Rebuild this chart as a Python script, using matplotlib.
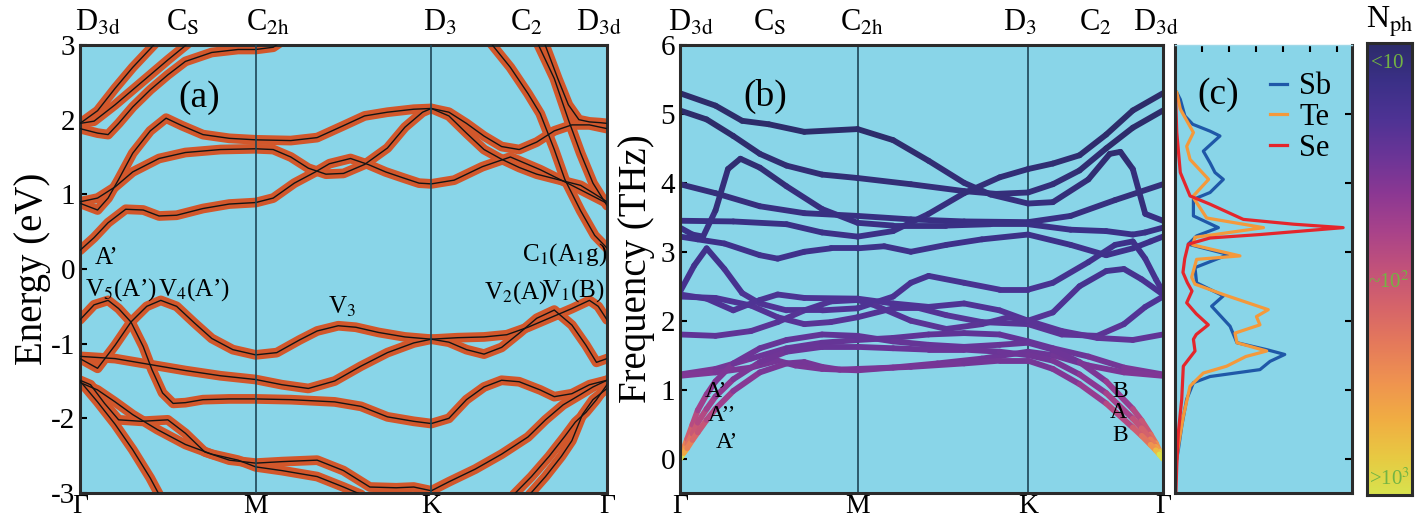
import numpy as np
import matplotlib
matplotlib.use('Agg')
import matplotlib.pyplot as plt
from matplotlib.collections import LineCollection
from matplotlib.colors import LinearSegmentedColormap, LogNorm

plt.rcParams['font.family'] = ['Liberation Serif', 'DejaVu Serif']
plt.rcParams['mathtext.fontset'] = 'stix'
plt.rcParams['axes.unicode_minus'] = False

# ---------------- (a) electronic bands: k (G=0, M=1, K=2, G=3), E in eV
vb1_k = [0, 0.08, 0.16, 0.22, 0.29, 0.36, 0.41, 0.47, 0.53, 0.6, 0.7, 0.85, 1.0, 1.2, 1.45, 1.6, 1.75, 1.9, 2.0, 2.1, 2.2, 2.3, 2.4, 2.5, 2.62, 2.7, 2.8, 2.9, 3.0]
vb1_e = [-0.68, -0.48, -0.42, -0.53, -0.71, -1.04, -1.35, -1.66, -1.80, -1.79, -1.75, -1.74, -1.74, -1.75, -1.78, -1.84, -1.98, -2.04, -2.07, -2.0, -1.75, -1.58, -1.49, -1.51, -1.62, -1.71, -1.67, -1.55, -1.49]
vb2_k = [0, 0.1, 0.2, 0.29, 0.38, 0.46, 0.55, 0.65, 0.75, 0.87, 1.0, 1.12, 1.25, 1.35, 1.47, 1.57, 1.7, 1.85, 2.0, 2.15, 2.3, 2.43, 2.55, 2.7, 2.8, 2.9, 2.95, 3.0]
vb2_e = [-1.20, -1.33, -1.02, -0.71, -0.50, -0.42, -0.50, -0.72, -0.93, -1.08, -1.15, -1.12, -0.95, -0.83, -0.76, -0.78, -0.85, -0.91, -0.94, -0.92, -0.91, -0.88, -0.78, -0.63, -0.53, -0.42, -0.50, -0.68]
vb3_k = [0, 0.2, 0.4, 0.6, 0.8, 1.0, 1.15, 1.3, 1.45, 1.6, 1.75, 1.9, 2.0, 2.1, 2.2, 2.3, 2.4, 2.5, 2.6, 2.7, 2.8, 2.88, 2.94, 3.0]
vb3_e = [-1.17, -1.20, -1.28, -1.36, -1.43, -1.48, -1.55, -1.60, -1.50, -1.30, -1.12, -0.99, -0.94, -0.98, -1.08, -1.14, -1.05, -0.86, -0.66, -0.55, -0.75, -1.02, -1.25, -1.20]
vb4_k = [0, 0.06, 0.14, 0.22, 0.35, 0.5, 0.6, 0.71, 0.85, 1.0, 1.15, 1.35, 1.5, 1.65, 1.8, 1.9, 2.0, 2.1, 2.25, 2.4, 2.55, 2.65, 2.75, 2.85, 2.92, 3.0]
vb4_e = [-1.49, -1.55, -1.80, -2.02, -2.04, -2.02, -2.20, -2.45, -2.56, -2.60, -2.58, -2.56, -2.70, -2.92, -2.93, -2.92, -2.97, -2.85, -2.68, -2.48, -2.25, -2.02, -1.82, -1.68, -1.58, -1.49]
vb5_k = [0, 0.1, 0.2, 0.3, 0.44, 0.6, 0.75, 0.9, 1.0, 1.15, 1.35, 1.5, 1.6]
vb5_e = [-1.52, -1.62, -1.78, -1.95, -2.15, -2.35, -2.48, -2.56, -2.65, -2.70, -2.78, -2.92, -3.02]
vb6_k = [0, 0.1, 0.2, 0.3, 0.4, 0.45]
vb6_e = [-1.50, -1.78, -2.08, -2.42, -2.80, -3.02]
vb7_k = [2.47, 2.57, 2.67, 2.76, 2.82, 2.88, 2.94, 3.0]
vb7_e = [-3.02, -2.78, -2.51, -2.24, -2.05, -1.92, -1.75, -1.55]
vb8_k = [2.56, 2.65, 2.74, 2.80, 2.86, 2.92, 3.0]
vb8_e = [-3.02, -2.78, -2.51, -2.30, -1.95, -1.75, -1.60]

cb1_k = [0, 0.08, 0.16, 0.26, 0.36, 0.45, 0.55, 0.7, 0.85, 1.0, 1.1, 1.22, 1.34, 1.42, 1.54, 1.64, 1.74, 1.84, 1.93, 2.0, 2.13, 2.29, 2.45, 2.62, 2.8, 2.9, 3.0]
cb1_e = [0.25, 0.42, 0.62, 0.80, 0.79, 0.71, 0.72, 0.81, 0.87, 0.89, 0.95, 1.15, 1.30, 1.41, 1.48, 1.40, 1.30, 1.22, 1.15, 1.14, 1.19, 1.37, 1.50, 1.33, 1.12, 1.0, 0.88]
cb2_k = [0, 0.1, 0.16, 0.22, 0.3, 0.4, 0.49, 0.58, 0.7, 0.85, 1.0, 1.2, 1.35, 1.5, 1.62, 1.75, 1.9, 2.0, 2.1, 2.2, 2.3, 2.4, 2.5, 2.6, 2.7, 2.8, 2.9, 3.0]
cb2_e = [0.88, 0.79, 0.95, 1.20, 1.55, 1.85, 2.02, 1.92, 1.80, 1.75, 1.73, 1.72, 1.76, 1.92, 2.05, 2.10, 2.14, 2.15, 2.10, 1.95, 1.78, 1.64, 1.60, 1.70, 1.85, 1.93, 1.93, 1.88]
cb3_k = [0, 0.1, 0.2, 0.3, 0.45, 0.6, 0.8, 1.0, 1.1, 1.2, 1.3, 1.4, 1.5, 1.62, 1.75, 1.85, 1.95, 2.0, 2.1, 2.2, 2.3, 2.4, 2.5, 2.6, 2.75, 2.85, 2.92, 3.0]
cb3_e = [0.90, 0.95, 1.10, 1.30, 1.48, 1.56, 1.60, 1.61, 1.60, 1.50, 1.35, 1.27, 1.28, 1.40, 1.62, 1.90, 2.10, 2.15, 2.05, 1.82, 1.60, 1.47, 1.36, 1.27, 1.18, 1.12, 1.02, 0.90]
cb4_k = [0, 0.1, 0.2, 0.3, 0.44]
cb4_e = [1.95, 2.12, 2.42, 2.70, 3.05]
cb5_k = [0, 0.1, 0.16, 0.22, 0.3, 0.4, 0.5, 0.6, 0.75, 0.9, 1.0, 1.1, 1.15]
cb5_e = [1.88, 1.82, 1.80, 1.95, 2.17, 2.40, 2.60, 2.78, 2.90, 2.94, 2.94, 2.97, 3.05]
cb6_k = [0, 0.08, 0.2, 0.35, 0.5, 0.63]
cb6_e = [1.95, 1.98, 2.20, 2.50, 2.80, 3.05]
cb7_k = [2.33, 2.45, 2.55, 2.62, 2.7, 2.76, 2.85, 2.93, 3.0]
cb7_e = [3.05, 2.70, 2.35, 2.08, 1.60, 1.20, 0.78, 0.45, 0.28]
cb8_k = [2.6, 2.7, 2.78, 2.85, 2.92, 3.0]
cb8_e = [3.05, 2.55, 2.0, 1.55, 1.15, 0.85]
cb9_k = [2.64, 2.72, 2.78, 2.84, 2.9, 2.96, 3.0]
cb9_e = [3.05, 2.55, 2.20, 2.0, 1.97, 1.96, 1.95]

elec_bands = [(vb1_k, vb1_e), (vb2_k, vb2_e), (vb3_k, vb3_e), (vb4_k, vb4_e),
              (vb5_k, vb5_e), (vb6_k, vb6_e), (vb7_k, vb7_e), (vb8_k, vb8_e),
              (cb1_k, cb1_e), (cb2_k, cb2_e), (cb3_k, cb3_e), (cb4_k, cb4_e),
              (cb5_k, cb5_e), (cb6_k, cb6_e), (cb7_k, cb7_e), (cb8_k, cb8_e),
              (cb9_k, cb9_e)]

# ---------------- (b) phonon branches: k (G=0, M=1, K=1.96, G=2.72), f in THz
ph_ticks = [0, 1.0, 1.96, 2.72]
p1_k = [0, 0.2, 0.35, 0.5, 0.7, 1.0, 1.2, 1.4, 1.6, 1.75, 1.96, 2.1, 2.3, 2.42, 2.48, 2.55, 2.62, 2.72]
p1_f = [5.30, 5.12, 4.90, 4.85, 4.74, 4.78, 4.62, 4.32, 4.00, 3.83, 3.70, 3.72, 4.05, 4.42, 4.45, 4.20, 3.55, 3.45]
p2_k = [0, 0.15, 0.3, 0.45, 0.6, 0.8, 1.0, 1.3, 1.6, 1.78, 1.96, 2.1, 2.25, 2.4, 2.55, 2.72]
p2_f = [5.05, 4.92, 4.68, 4.42, 4.25, 4.12, 4.07, 3.98, 3.88, 3.84, 3.86, 3.98, 4.18, 4.50, 4.80, 5.05]
p3_k = [0, 0.3, 0.6, 0.8, 1.0, 1.2, 1.4, 1.6, 1.8, 1.96, 2.1, 2.25, 2.4, 2.55, 2.72]
p3_f = [3.45, 3.44, 3.40, 3.28, 3.22, 3.30, 3.55, 3.85, 4.08, 4.20, 4.28, 4.40, 4.70, 5.05, 5.30]
p4_k = [0, 0.2, 0.45, 0.7, 1.0, 1.3, 1.6, 1.96, 2.2, 2.45, 2.72]
p4_f = [3.98, 3.85, 3.66, 3.56, 3.52, 3.47, 3.44, 3.43, 3.52, 3.75, 3.98]
p5_k = [0, 0.07, 0.13, 0.2, 0.27, 0.34, 0.45, 0.6, 0.8, 1.0, 1.2, 1.5, 1.75, 1.96, 2.2, 2.4, 2.55, 2.62, 2.72]
p5_f = [3.35, 3.25, 3.22, 3.60, 4.20, 4.35, 4.22, 3.95, 3.62, 3.42, 3.38, 3.38, 3.40, 3.40, 3.32, 3.30, 3.25, 3.28, 3.35]
p6_k = [0, 0.1, 0.25, 0.45, 0.55, 0.7, 0.85, 1.0, 1.15, 1.3, 1.5, 1.7, 1.96, 2.2, 2.4, 2.55, 2.65, 2.72]
p6_f = [3.22, 3.18, 3.12, 2.95, 2.90, 3.00, 3.05, 3.05, 3.08, 3.00, 3.10, 3.18, 3.25, 3.10, 2.95, 3.05, 3.15, 3.22]
p7_k = [0, 0.08, 0.15, 0.25, 0.35, 0.45, 0.6, 0.8, 1.0, 1.2, 1.3, 1.4, 1.6, 1.8, 1.96, 2.1, 2.3, 2.45, 2.55, 2.62, 2.68, 2.72]
p7_f = [2.42, 2.80, 3.05, 2.75, 2.40, 2.25, 2.15, 2.15, 2.18, 2.35, 2.55, 2.65, 2.55, 2.45, 2.45, 2.55, 2.85, 3.10, 3.15, 2.90, 2.60, 2.42]
p8_k = [0, 0.2, 0.4, 0.55, 0.7, 0.85, 1.0, 1.2, 1.35, 1.5, 1.7, 1.96, 2.15, 2.35, 2.5, 2.62, 2.72]
p8_f = [2.35, 2.33, 2.22, 2.05, 1.95, 1.98, 2.05, 2.18, 2.18, 2.08, 1.98, 1.95, 1.80, 1.78, 1.95, 2.20, 2.35]
p9_k = [0, 0.15, 0.3, 0.45, 0.55, 0.7, 1.0, 1.2, 1.4, 1.6, 1.8, 1.96, 2.1, 2.25, 2.4, 2.5, 2.6, 2.72]
p9_f = [2.38, 2.32, 2.15, 2.30, 2.38, 2.33, 2.32, 2.25, 2.20, 2.25, 2.15, 2.00, 2.12, 2.50, 2.72, 2.75, 2.60, 2.38]
p10_k = [0, 0.2, 0.4, 0.55, 0.7, 0.85, 1.0, 1.1, 1.3, 1.5, 1.7, 1.85, 1.96, 2.15, 2.35, 2.55, 2.72]
p10_f = [1.80, 1.78, 1.85, 1.98, 2.15, 2.28, 2.30, 2.22, 2.00, 1.88, 1.95, 2.05, 2.00, 1.85, 1.75, 1.72, 1.80]
p11_k = [0, 0.2, 0.4, 0.6, 0.8, 1.0, 1.2, 1.4, 1.6, 1.8, 1.96, 2.1, 2.3, 2.5, 2.72]
p11_f = [1.22, 1.30, 1.45, 1.60, 1.68, 1.72, 1.75, 1.80, 1.82, 1.80, 1.70, 1.60, 1.48, 1.32, 1.22]
p12_k = [0, 0.2, 0.4, 0.55, 0.65, 0.8, 1.0, 1.2, 1.45, 1.7, 1.96, 2.1, 2.3, 2.5, 2.72]
p12_f = [1.20, 1.25, 1.32, 1.42, 1.35, 1.30, 1.28, 1.32, 1.38, 1.45, 1.55, 1.50, 1.35, 1.25, 1.20]
ac1_k = [0, 0.02, 0.04, 0.07, 0.1, 0.15, 0.2, 0.3, 0.45, 0.6, 0.8, 1.0, 1.2, 1.4, 1.6, 1.8, 1.96, 2.1, 2.25, 2.4, 2.55, 2.6, 2.65, 2.68, 2.7, 2.72]
ac1_f = [0, 0.14, 0.28, 0.49, 0.70, 0.93, 1.12, 1.38, 1.60, 1.72, 1.80, 1.78, 1.70, 1.65, 1.62, 1.65, 1.68, 1.58, 1.40, 1.12, 0.72, 0.55, 0.35, 0.22, 0.11, 0]
ac2_k = [0, 0.02, 0.04, 0.07, 0.1, 0.15, 0.2, 0.3, 0.45, 0.6, 0.8, 1.0, 1.2, 1.4, 1.6, 1.8, 1.96, 2.1, 2.25, 2.4, 2.55, 2.6, 2.65, 2.68, 2.7, 2.72]
ac2_f = [0, 0.10, 0.20, 0.36, 0.52, 0.72, 0.90, 1.15, 1.40, 1.55, 1.62, 1.62, 1.60, 1.58, 1.58, 1.55, 1.50, 1.42, 1.22, 0.95, 0.58, 0.44, 0.28, 0.17, 0.09, 0]
ac3_k = [0, 0.02, 0.04, 0.07, 0.1, 0.15, 0.2, 0.3, 0.45, 0.6, 0.7, 0.8, 0.9, 1.0, 1.3, 1.6, 1.8, 1.96, 2.1, 2.25, 2.4, 2.55, 2.6, 2.65, 2.68, 2.7, 2.72]
ac3_f = [0, 0.08, 0.15, 0.27, 0.38, 0.56, 0.72, 0.98, 1.25, 1.38, 1.40, 1.33, 1.29, 1.30, 1.33, 1.38, 1.42, 1.42, 1.30, 1.08, 0.80, 0.45, 0.33, 0.20, 0.12, 0.06, 0]

phonon_bands = [(p1_k, p1_f), (p2_k, p2_f), (p3_k, p3_f), (p4_k, p4_f), (p5_k, p5_f),
                (p6_k, p6_f), (p7_k, p7_f), (p8_k, p8_f), (p9_k, p9_f), (p10_k, p10_f),
                (p11_k, p11_f), (p12_k, p12_f), (ac1_k, ac1_f), (ac2_k, ac2_f), (ac3_k, ac3_f)]

# ---------------- (c) projected phonon DOS (arb. units, 0..1)
sb_f = [5.31, 5.21, 4.97, 4.85, 4.75, 4.68, 4.46, 4.29, 4.15, 4.05, 3.86, 3.76, 3.52, 3.35, 3.23, 3.11, 2.96, 2.77, 2.55, 2.36, 2.21, 1.92, 1.68, 1.58, 1.51, 1.41, 1.29, 1.19, 1.10, 0.86, 0.47, 0.13, 0.0]
sb_v = [0.01, 0.03, 0.056, 0.10, 0.198, 0.254, 0.16, 0.198, 0.226, 0.273, 0.198, 0.104, 0.104, 0.245, 0.122, 0.075, 0.301, 0.113, 0.122, 0.273, 0.207, 0.311, 0.35, 0.518, 0.62, 0.537, 0.48, 0.198, 0.104, 0.066, 0.038, 0.019, 0.01]
te_f = [5.31, 5.07, 4.73, 4.53, 4.34, 4.05, 3.80, 3.49, 3.35, 3.21, 3.10, 2.94, 2.89, 2.63, 2.53, 2.38, 2.16, 2.06, 1.94, 1.82, 1.68, 1.56, 1.48, 1.34, 1.24, 1.05, 0.61, 0.18, 0.0]
te_v = [0.01, 0.03, 0.104, 0.066, 0.085, 0.19, 0.10, 0.179, 0.50, 0.113, 0.10, 0.367, 0.122, 0.094, 0.113, 0.273, 0.527, 0.46, 0.48, 0.339, 0.35, 0.518, 0.40, 0.292, 0.16, 0.085, 0.047, 0.019, 0.01]
se_f = [5.79, 5.50, 4.73, 4.15, 3.81, 3.69, 3.47, 3.40, 3.35, 3.25, 3.20, 3.11, 2.90, 2.70, 2.55, 2.43, 2.26, 2.10, 1.94, 1.80, 1.73, 1.56, 1.34, 0.86, 0.38, -0.1, -0.5]
se_v = [0.0, 0.0, 0.01, 0.03, 0.085, 0.198, 0.386, 0.67, 0.95, 0.48, 0.198, 0.075, 0.055, 0.045, 0.07, 0.096, 0.066, 0.12, 0.188, 0.12, 0.104, 0.113, 0.047, 0.038, 0.019, 0.01, 0.005]

# colour scale for phonon occupation
nph_colors = ['#2d2c6a', '#3b3087', '#4e3394', '#6b3597', '#8c3893', '#a9438a',
              '#c2527a', '#d6646a', '#e57a5b', '#ef9350', '#f1ad43', '#e8c942', '#d8e34e']
nph_cmap = LinearSegmentedColormap.from_list('nph', nph_colors)
nph_norm = LogNorm(vmin=10, vmax=1000, clip=True)
nph_scale = 50.0

W, H = 1416, 520
fig = plt.figure(figsize=(W / 100, H / 100), dpi=100)


def px_axes(x0, y0, x1, y1):
    return fig.add_axes([x0 / W, 1 - y1 / H, (x1 - x0) / W, (y1 - y0) / H])


def frame(ax):
    ax.set_facecolor('#89d5e8')
    for s in ax.spines.values():
        s.set_linewidth(2.2)
        s.set_color('#2b2b2b')


def top_labels(ax, fracs):
    names = [r'D$_{\rm 3d}$', r'C$_{\rm S}$', r'C$_{\rm 2h}$', r'D$_{\rm 3}$', r'C$_{\rm 2}$', r'D$_{\rm 3d}$']
    for fx, name in zip(fracs, names):
        ax.text(fx, 1.015, name, transform=ax.transAxes, ha='center', va='bottom', fontsize=22)


ax_a = px_axes(80, 45, 607, 493)
ax_b = px_axes(680, 45, 1163, 493)
ax_c = px_axes(1175, 45, 1352, 493)
ax_cb = px_axes(1367, 43, 1412, 495)

# ---- panel (a)
frame(ax_a)
for k, e in elec_bands:
    ax_a.plot(k, e, color='#d2572b', lw=7, solid_joinstyle='round', solid_capstyle='round', zorder=2)
    ax_a.plot(k, e, color='#141414', lw=1.0, zorder=3)
for xv in [1, 2]:
    ax_a.axvline(xv, color='#1d4556', lw=1.2, zorder=4)
ax_a.set_xlim(0, 3)
ax_a.set_ylim(-3, 3)
ax_a.set_yticks(range(-3, 4))
ax_a.set_xticks([0, 1, 2, 3])
ax_a.set_xticklabels(['Γ', 'M', 'K', 'Γ'])
ax_a.tick_params(axis='y', direction='in', length=5, width=1.5, labelsize=21)
ax_a.tick_params(axis='x', length=0, labelsize=20, pad=1)
ax_a.set_ylabel('Energy (eV)', fontsize=28, labelpad=0)
top_labels(ax_a, [0.034, 0.195, 0.357, 0.683, 0.848, 0.985])
ax_a.text(0.68, 2.30, '(a)', fontsize=27, ha='center', va='center')
ax_a.text(0.085, 0.15, 'A’', fontsize=18, ha='left', va='center')
ax_a.text(0.235, -0.28, r'V$_5$(A’)', fontsize=18, ha='center', va='center')
ax_a.text(0.65, -0.28, r'V$_4$(A’)', fontsize=18, ha='center', va='center')
ax_a.text(1.49, -0.51, r'V$_3$', fontsize=18, ha='center', va='center')
ax_a.text(2.76, 0.19, r'C$_1$(A$_1$g)', fontsize=18, ha='center', va='center')
ax_a.text(2.48, -0.31, r'V$_2$(A)', fontsize=18, ha='center', va='center')
ax_a.text(2.81, -0.29, r'V$_1$(B)', fontsize=18, ha='center', va='center')

# ---- panel (b)
frame(ax_b)
for k, f in phonon_bands:
    pts = np.column_stack([k, f])
    segs = np.stack([pts[:-1], pts[1:]], axis=1)
    fmid = np.maximum((np.array(f[:-1]) + np.array(f[1:])) / 2, 1e-3)
    nph = 1.0 / np.expm1(fmid / nph_scale)
    lc = LineCollection(segs, colors=nph_cmap(nph_norm(nph)), linewidths=4.2,
                        capstyle='round', joinstyle='round', zorder=2)
    ax_b.add_collection(lc)
for xv in ph_ticks[1:3]:
    ax_b.axvline(xv, color='#1d4556', lw=1.2, zorder=1.5)
ax_b.set_xlim(0, ph_ticks[-1])
ax_b.set_ylim(-0.5, 6)
ax_b.set_yticks(range(0, 7))
ax_b.set_xticks(ph_ticks)
ax_b.set_xticklabels(['Γ', 'M', 'K', 'Γ'])
ax_b.tick_params(axis='y', direction='in', length=5, width=1.5, labelsize=21)
ax_b.tick_params(axis='x', length=0, labelsize=20, pad=1)
ax_b.set_ylabel('Frequency (THz)', fontsize=28, labelpad=4)
top_labels(ax_b, [0.022, 0.186, 0.377, 0.704, 0.861, 0.985])
ax_b.text(0.48, 5.25, '(b)', fontsize=27, ha='center', va='center')
for kx, fy, t in [(0.20, 0.97, 'A’'), (0.236, 0.62, 'A’’'), (0.264, 0.23, 'A’'),
                  (2.48, 0.97, 'B'), (2.47, 0.67, 'A'), (2.48, 0.33, 'B')]:
    ax_b.text(kx, fy, t, fontsize=17, ha='center', va='center', zorder=5)

# ---- panel (c)
frame(ax_c)
ax_c.spines['top'].set_color('#9ed8e8')
ax_c.spines['top'].set_linewidth(1.0)
ax_c.plot(sb_v, sb_f, color='#1f58a8', lw=2.3, label='Sb')
ax_c.plot(te_v, te_f, color='#f4993b', lw=2.3, label='Te')
ax_c.plot(se_v, se_f, color='#e4262c', lw=2.3, label='Se')
ax_c.set_xlim(0, 1)
ax_c.set_ylim(-0.5, 6)
ax_c.set_yticks(range(0, 6))
ax_c.set_xticks([0.153 * i for i in range(1, 7)])
ax_c.tick_params(left=False, bottom=False, labelleft=False, labelbottom=False,
                 right=True, top=True, direction='in', length=5, width=1.5)
ax_c.text(0.243, 0.888, '(c)', transform=ax_c.transAxes, fontsize=27, ha='center', va='center')
ax_c.legend(loc='upper right', bbox_to_anchor=(1.04, 1.0), frameon=False, fontsize=22,
            handlelength=0.55, handletextpad=0.4, labelspacing=0.05)

# ---- colour bar
ax_cb.imshow(np.linspace(1, 0, 256)[:, None], cmap=nph_cmap, aspect='auto',
             extent=[0, 1, 0, 1], origin='lower')
ax_cb.set_xticks([])
ax_cb.set_yticks([])
for s in ax_cb.spines.values():
    s.set_linewidth(2.2)
    s.set_color('#2b2b2b')
ax_cb.text(0.1, 0.955, '<10', transform=ax_cb.transAxes, color='#73b443', fontsize=15, va='center')
ax_cb.text(0.02, 0.47, r'~10$^2$', transform=ax_cb.transAxes, color='#73b443', fontsize=15, va='center')
ax_cb.text(0.05, 0.035, r'>10$^3$', transform=ax_cb.transAxes, color='#73b443', fontsize=15, va='center')
fig.text(1390 / W, 1 - 22 / H, r'N$_{\rm ph}$', fontsize=23, ha='center', va='center')

fig.savefig('out.png', dpi=100)
